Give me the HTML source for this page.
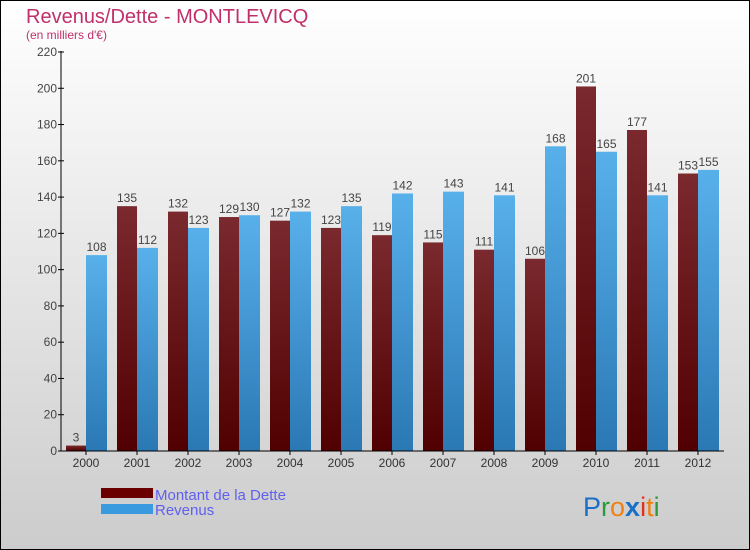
<!DOCTYPE html>
<html><head><meta charset="utf-8"><style>
body{margin:0}
#c{position:relative;width:748px;height:548px;border:1px solid #000;background:linear-gradient(#fff,#ccc);font-family:"Liberation Sans",sans-serif;overflow:hidden}
text{font-family:"Liberation Sans",sans-serif}
</style></head><body>
<div id="c">
<svg id="s" width="748" height="548">
<defs>
<linearGradient id="gd" x1="0" x2="0" y1="0" y2="1"><stop offset="0" stop-color="#7a2a2e"/><stop offset="1" stop-color="#500000"/></linearGradient>
<linearGradient id="gr" x1="0" x2="0" y1="0" y2="1"><stop offset="0" stop-color="#58b0ea"/><stop offset="1" stop-color="#2a78b4"/></linearGradient>
</defs>
<text x="25" y="22" font-size="20" fill="#c0306a">Revenus/Dette - MONTLEVICQ</text>
<text x="25" y="38" font-size="12" fill="#c0306a">(en milliers d'€)</text>
<g id="bars"></g>
<g id="axes"></g>
<rect x="100" y="487" width="52" height="10" fill="#6a0000"/>
<rect x="100" y="503" width="52" height="10" fill="#3a9ae0"/>
<text x="154" y="499" font-size="15" fill="#6060ee">Montant de la Dette</text>
<text x="154" y="514" font-size="15" fill="#6060ee">Revenus</text>
<text x="582" y="515" font-size="27"><tspan fill="#1a70c8">P</tspan><tspan fill="#2a9a3a">r</tspan><tspan fill="#f08010">o</tspan><tspan fill="#1a70c8" font-weight="bold">x</tspan><tspan fill="#e03020">i</tspan><tspan fill="#f08010">t</tspan><tspan fill="#2a9a3a">i</tspan></text>
</svg>
</div>
<script>
const years=["2000","2001","2002","2003","2004","2005","2006","2007","2008","2009","2010","2011","2012"];
const dette=[3,135,132,129,127,123,119,115,111,106,201,177,153];
const revenus=[108,112,123,130,132,135,142,143,141,168,165,141,155];
const yTicks=[0,20,40,60,80,100,120,140,160,180,200,220];
const NS="http://www.w3.org/2000/svg";
const x0=60,step=51,yBase=450,k=399/220;
const y=v=>yBase-v*k;
const bars=document.getElementById('bars'),axes=document.getElementById('axes');
function mk(tag,attrs,parent){const e=document.createElementNS(NS,tag);for(const a in attrs)e.setAttribute(a,attrs[a]);parent.appendChild(e);return e;}
years.forEach((yr,i)=>{
 const gx=x0+i*step+5;
 let r=mk('rect',{x:gx,y:y(dette[i]),width:20,height:dette[i]*k,fill:'url(#gd)'},bars);
 
 
 let r2=mk('rect',{x:gx+20,y:y(revenus[i]),width:21,height:revenus[i]*k,fill:'url(#gr)'},bars);
 
 
 let t=mk('text',{x:gx+10,y:y(dette[i])-4,'font-size':12,fill:'#444','text-anchor':'middle'},bars);t.textContent=dette[i];
 
 
 let t2=mk('text',{x:gx+30.5,y:y(revenus[i])-4,'font-size':12,fill:'#444','text-anchor':'middle'},bars);t2.textContent=revenus[i];
 
 
 let xl=mk('text',{x:gx+20,y:466,'font-size':12,fill:'#333','text-anchor':'middle'},axes);xl.textContent=yr;
 
 
 mk('line',{x1:gx+20,x2:gx+20,y1:450,y2:454,stroke:'#000'},axes);
});
yTicks.forEach(v=>{
 mk('line',{x1:57,x2:63,y1:y(v),y2:y(v),stroke:'#000'},axes);
 let t=mk('text',{x:56,y:y(v)+4,'font-size':12,fill:'#444','text-anchor':'end'},axes);t.textContent=v;
 
 
});
let ya=mk('line',{x1:60,x2:60,y1:50,y2:450,stroke:'#000'},axes);


let xa=mk('line',{x1:60,x2:723,y1:450,y2:450,stroke:'#000'},axes);


</script>
</body></html>
